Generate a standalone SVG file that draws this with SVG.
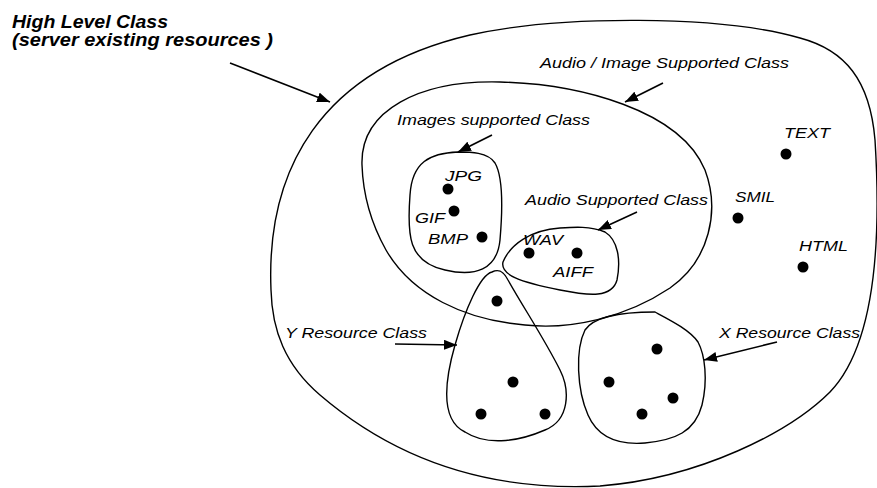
<svg xmlns="http://www.w3.org/2000/svg" width="877" height="488" viewBox="0 0 877 488">
<style>
.shape{fill:none;stroke:#000;stroke-width:1.4}
.dot{fill:#000}
.lbl{font-family:"Liberation Sans",Arial,sans-serif;font-style:italic;font-size:15.5px;fill:#000}
.title{font-family:"Liberation Sans",Arial,sans-serif;font-style:italic;font-weight:bold;font-size:18px;fill:#000}
.conn{fill:none;stroke:#000;stroke-width:1.6}
</style>
<defs>
<marker id="ah" markerWidth="13" markerHeight="10" refX="13" refY="5" orient="auto" markerUnits="userSpaceOnUse">
<path d="M0,0 L13,5 L0,10 Z" fill="#000"/>
</marker>
</defs>
<rect width="877" height="488" fill="#fff"/>

<g id="high-level-class">
<path class="shape" d="M 271 290 C 266 170, 320 70, 470 35 C 560 15, 720 15, 800 38 C 845 50, 870 80, 875 140 C 880 220, 880 340, 830 392 C 790 432, 700 478, 600 486 C 480 492, 390 455, 320 395 C 285 365, 272 330, 271 290 Z"/>
<text class="title" x="12" y="28" textLength="156" lengthAdjust="spacingAndGlyphs">High Level Class</text>
<text class="title" x="12" y="46" textLength="261" lengthAdjust="spacingAndGlyphs">(server existing resources )</text>
</g>

<g id="audio-image-class">
<path class="shape" d="M 362 165 C 360 110, 420 80, 500 82 C 580 84, 680 110, 705 170 C 720 210, 710 260, 670 288 C 625 318, 570 330, 525 325 C 465 320, 412 295, 386 250 C 372 225, 363 195, 362 165 Z"/>
<text class="lbl" x="540" y="68" textLength="249" lengthAdjust="spacingAndGlyphs">Audio / Image Supported Class</text>
</g>

<g id="images-class">
<path class="shape" d="M 458 152 C 430 153, 412 162, 410 195 C 407 235, 408 262, 445 270 C 475 277, 497 270, 500 240 C 503 205, 502 175, 495 163 C 488 152, 470 152, 458 152 Z"/>
<text class="lbl" x="397" y="125" textLength="193" lengthAdjust="spacingAndGlyphs">Images supported Class</text>
<circle class="dot" cx="448" cy="189" r="5.5"/>
<circle class="dot" cx="454" cy="211" r="5.5"/>
<circle class="dot" cx="482" cy="237" r="5.5"/>
<text class="lbl" x="445" y="181" textLength="37" lengthAdjust="spacingAndGlyphs">JPG</text>
<text class="lbl" x="415" y="223" textLength="30" lengthAdjust="spacingAndGlyphs">GIF</text>
<text class="lbl" x="428" y="244" textLength="40" lengthAdjust="spacingAndGlyphs">BMP</text>
</g>

<g id="audio-class">
<path class="shape" d="M 560 228 C 530 230, 510 245, 503 262 C 500 275, 520 282, 560 290 C 590 296, 612 298, 617 280 C 621 260, 618 240, 605 232 C 590 226, 575 227, 560 228 Z"/>
<text class="lbl" x="525" y="205" textLength="183" lengthAdjust="spacingAndGlyphs">Audio Supported Class</text>
<circle class="dot" cx="529" cy="253" r="5.5"/>
<circle class="dot" cx="577" cy="253" r="5.5"/>
<text class="lbl" x="523" y="245" textLength="40" lengthAdjust="spacingAndGlyphs">WAV</text>
<text class="lbl" x="553" y="277" textLength="40" lengthAdjust="spacingAndGlyphs">AIFF</text>
</g>

<g id="y-resource-class">
<path class="shape" d="M 492 272 C 480 275, 465 310, 455 345 C 445 380, 440 420, 465 432 C 485 445, 515 443, 545 430 C 570 420, 570 390, 560 370 C 545 340, 525 310, 508 280 C 503 270, 498 269, 492 272 Z"/>
<text class="lbl" x="285" y="338" textLength="142" lengthAdjust="spacingAndGlyphs">Y Resource Class</text>
<circle class="dot" cx="497" cy="301" r="5.5"/>
<circle class="dot" cx="513" cy="382" r="5.5"/>
<circle class="dot" cx="481" cy="414" r="5.5"/>
<circle class="dot" cx="545" cy="414" r="5.5"/>
</g>

<g id="x-resource-class">
<path class="shape" d="M 655 312 C 630 312, 595 315, 585 330 C 575 350, 577 390, 588 415 C 598 438, 620 445, 645 443 C 675 440, 695 432, 702 405 C 708 380, 705 355, 698 342 C 690 330, 670 320, 655 312 Z"/>
<text class="lbl" x="719" y="338" textLength="141" lengthAdjust="spacingAndGlyphs">X Resource Class</text>
<circle class="dot" cx="657" cy="349" r="5.5"/>
<circle class="dot" cx="609" cy="382" r="5.5"/>
<circle class="dot" cx="673" cy="398" r="5.5"/>
<circle class="dot" cx="642" cy="414" r="5.5"/>
</g>

<g id="text-res">
<circle class="dot" cx="786" cy="154" r="5.5"/>
<text class="lbl" x="784" y="138" textLength="46" lengthAdjust="spacingAndGlyphs">TEXT</text>
</g>
<g id="smil-res">
<circle class="dot" cx="738" cy="218" r="5.5"/>
<text class="lbl" x="735" y="202" textLength="40" lengthAdjust="spacingAndGlyphs">SMIL</text>
</g>
<g id="html-res">
<circle class="dot" cx="803" cy="267" r="5.5"/>
<text class="lbl" x="799" y="251" textLength="49" lengthAdjust="spacingAndGlyphs">HTML</text>
</g>

<g id="connectors">
<line class="conn" x1="230" y1="63" x2="330" y2="102" marker-end="url(#ah)"/>
<line class="conn" x1="663" y1="83" x2="625" y2="102" marker-end="url(#ah)"/>
<line class="conn" x1="492" y1="135" x2="458" y2="152" marker-end="url(#ah)"/>
<line class="conn" x1="637" y1="212" x2="598" y2="230" marker-end="url(#ah)"/>
<line class="conn" x1="395" y1="344" x2="457" y2="345" marker-end="url(#ah)"/>
<line class="conn" x1="777" y1="342" x2="704" y2="360" marker-end="url(#ah)"/>
</g>
</svg>
